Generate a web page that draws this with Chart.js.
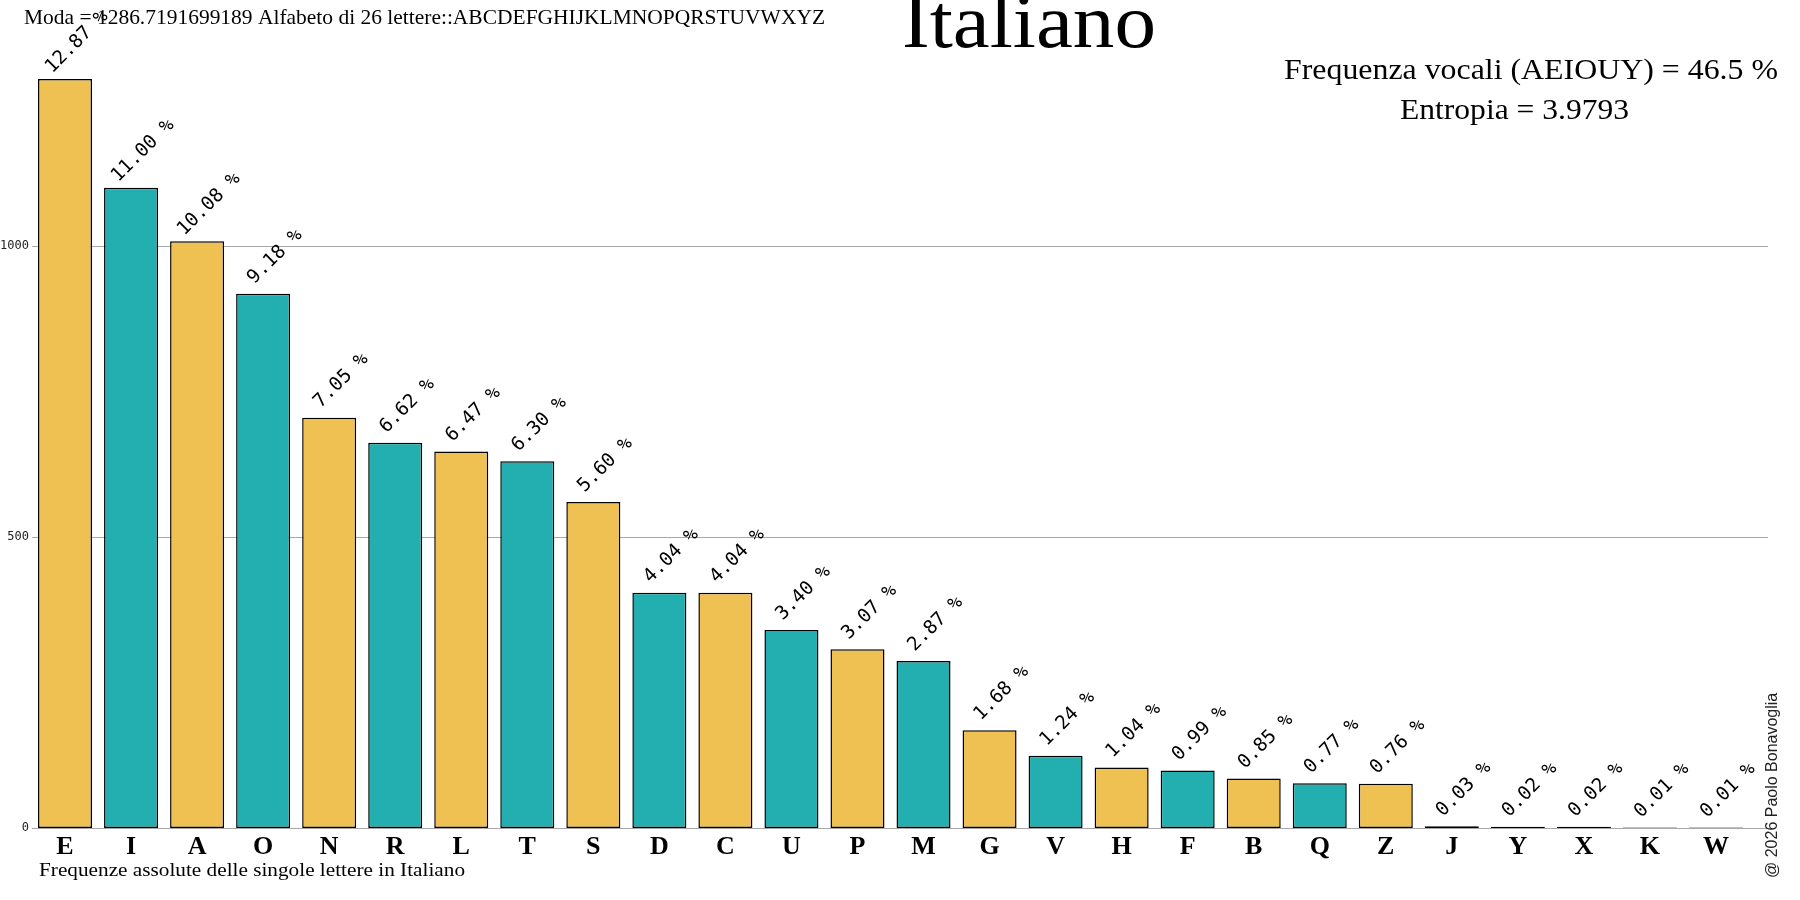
<!DOCTYPE html>
<html>
<head>
<meta charset="utf-8">
<title>Italiano</title>
<script src="https://cdn.jsdelivr.net/npm/chart.js@4.4.1/dist/chart.umd.min.js"></script>
<style>
  body { margin: 0; background: #fff; }
  #chart { display: block; }
</style>
</head>
<body>
<canvas id="chart" width="1800" height="900"></canvas>
<script>
// Letter frequencies (absolute counts and percent labels)
const letters = ['E', 'I', 'A', 'O', 'N', 'R', 'L', 'T', 'S', 'D', 'C', 'U', 'P',
                 'M', 'G', 'V', 'H', 'F', 'B', 'Q', 'Z', 'J', 'Y', 'X', 'K', 'W'];
const counts = [1287, 1100, 1008, 918, 705, 662, 647, 630, 560, 404, 404, 340, 307,
                287, 168, 124, 104, 99, 85, 77, 76, 3, 2, 2, 1, 1];
const percents = ['12.87', '11.00', '10.08', '9.18', '7.05', '6.62', '6.47', '6.30', '5.60',
                  '4.04', '4.04', '3.40', '3.07', '2.87', '1.68', '1.24', '1.04', '0.99',
                  '0.85', '0.77', '0.76', '0.03', '0.02', '0.02', '0.01', '0.01'];
const yTicks = [0, 500, 1000];

const YELLOW = '#EFC052';
const TEAL = '#23AFB0';
const barColors = letters.map((l, i) => counts[i] < 10 ? '#ffffff' : (i % 2 === 0 ? YELLOW : TEAL));

// draw text squeezed/stretched to a given width
function fitText(ctx, text, x, y, font, width) {
    ctx.save();
    ctx.font = font;
    const w = ctx.measureText(text).width;
    ctx.translate(x, y);
    ctx.scale(width / w, 1);
    ctx.textAlign = 'left';
    ctx.textBaseline = 'alphabetic';
    ctx.fillText(text, 0, 0);
    ctx.restore();
}

// horizontal grid lines, running a bit past the last bar
const gridLines = {
    id: 'gridLines',
    beforeDatasetsDraw(chart) {
        const { ctx, chartArea, scales } = chart;
        ctx.save();
        ctx.strokeStyle = '#a8a8a8';
        ctx.lineWidth = 1;
        yTicks.forEach(v => {
            const y = Math.round(scales.y.getPixelForValue(v)) + 0.5;
            ctx.beginPath();
            ctx.moveTo(chartArea.left, y);
            ctx.lineTo(1768, y);
            ctx.stroke();
        });
        ctx.restore();
    }
};

// rotated percent labels above the bars
const barLabels = {
    id: 'barLabels',
    afterDatasetsDraw(chart) {
        const { ctx } = chart;
        const meta = chart.getDatasetMeta(0);
        ctx.save();
        ctx.fillStyle = '#000';
        ctx.font = '19px "DejaVu Sans Mono"';
        ctx.textAlign = 'center';
        ctx.textBaseline = 'middle';
        meta.data.forEach((bar, i) => {
            ctx.save();
            ctx.translate(bar.x + 12, bar.y - 37);
            ctx.rotate(-Math.PI / 4);
            ctx.fillText(percents[i] + ' %', 0, 0);
            ctx.restore();
        });
        ctx.restore();
    }
};

// titles and notes
const texts = {
    id: 'texts',
    afterDraw(chart) {
        const { ctx } = chart;
        ctx.save();
        ctx.fillStyle = '#000';
        fitText(ctx, 'Italiano', 902, 47, '76px "Liberation Serif"', 254);
        fitText(ctx, 'Moda = 1286.7191699189 Alfabeto di 26 lettere::ABCDEFGHIJKLMNOPQRSTUVWXYZ',
                24, 24, '21px "Liberation Serif"', 801);
        fitText(ctx, 'Frequenza vocali (AEIOUY) = 46.5 %', 1284, 79, '29px "Liberation Serif"', 494);
        fitText(ctx, 'Entropia = 3.9793', 1400, 119, '29px "Liberation Serif"', 229);
        fitText(ctx, 'Frequenze assolute delle singole lettere in Italiano', 39, 876, '19px "Liberation Serif"', 426);

        ctx.translate(1777, 878);
        ctx.rotate(-Math.PI / 2);
        ctx.font = '16px "Liberation Sans"';
        ctx.textAlign = 'left';
        ctx.textBaseline = 'alphabetic';
        ctx.fillStyle = '#222';
        ctx.fillText('@ 2026 Paolo Bonavoglia', 0, 0);
        ctx.restore();
    }
};

new Chart(document.getElementById('chart'), {
    type: 'bar',
    data: {
        labels: letters,
        datasets: [{
            data: counts,
            backgroundColor: barColors,
            borderColor: '#000',
            borderWidth: 1.5,
            borderSkipped: false,
            barPercentage: 0.818,
            categoryPercentage: 1.0
        }]
    },
    options: {
        responsive: false,
        animation: false,
        devicePixelRatio: 1,
        layout: { padding: { left: 0, right: 51, top: 0, bottom: 0 } },
        plugins: {
            legend: { display: false },
            tooltip: { enabled: false },
            title: { display: false }
        },
        scales: {
            x: {
                grid: { display: false, drawTicks: false, tickLength: 0 },
                border: { display: false },
                ticks: {
                    color: '#000',
                    padding: 4,
                    maxRotation: 0,
                    autoSkip: false,
                    font: { family: '"Liberation Serif"', size: 26, weight: 'bold' }
                },
                afterFit(scale) { scale.height = 72; }
            },
            y: {
                min: 0,
                max: 1405,
                grid: { display: false, drawTicks: false, tickLength: 0 },
                border: { display: false },
                afterBuildTicks(scale) { scale.ticks = yTicks.map(v => ({ value: v })); },
                ticks: {
                    color: '#222',
                    padding: 3,
                    font: { family: '"DejaVu Sans Mono"', size: 12 },
                    callback: v => String(v)
                },
                afterFit(scale) { scale.width = 32; }
            }
        }
    },
    plugins: [gridLines, barLabels, texts]
});
</script>
</body>
</html>
